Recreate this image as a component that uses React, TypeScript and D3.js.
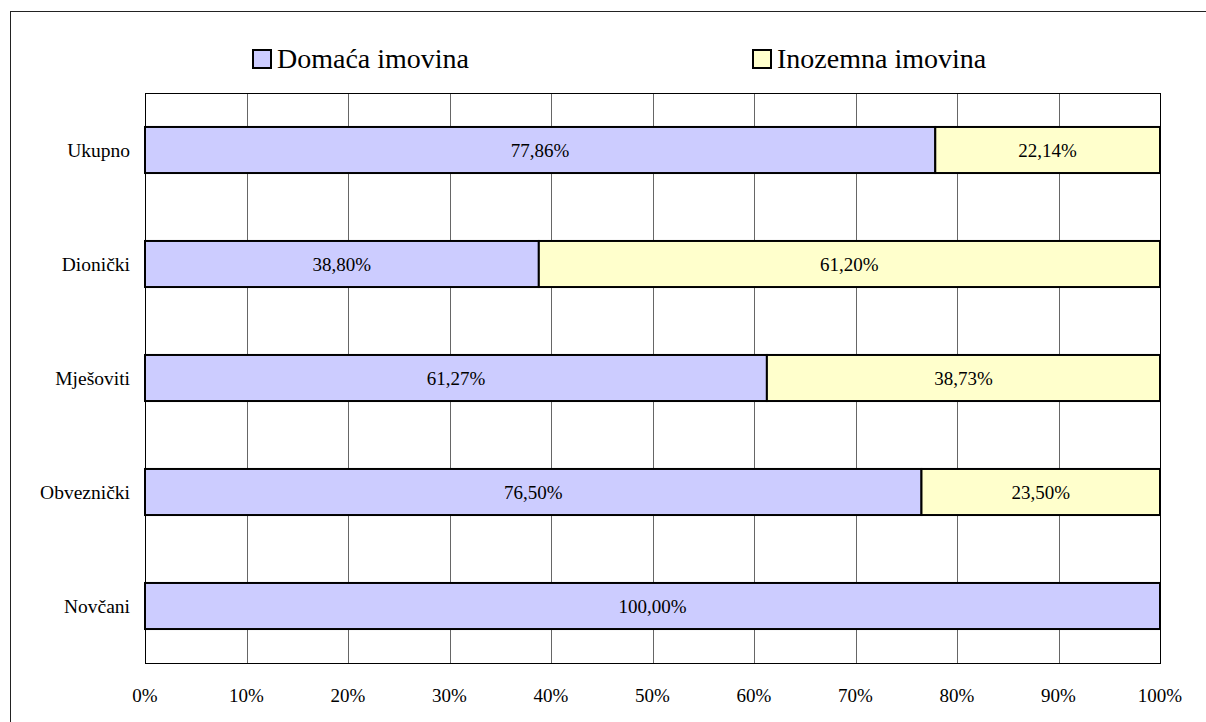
import React, { useRef, useEffect } from 'react';
import * as d3 from 'd3';

const categories = ['Ukupno', 'Dionički', 'Mješoviti', 'Obveznički', 'Novčani'];
const domestic = [77.86, 38.8, 61.27, 76.5, 100];
const foreign = [22.14, 61.2, 38.73, 23.5, 0];
const xTicks = [0, 10, 20, 30, 40, 50, 60, 70, 80, 90, 100];
const seriesNames = ['Domaća imovina', 'Inozemna imovina'];
const seriesColors = ['#CCCCFF', '#FFFFCC'];

const fmt = (v: number) => v.toFixed(2).replace('.', ',') + '%';

const App = () => {
    const chartRef = useRef<SVGSVGElement>(null);

    useEffect(() => {
        const root = d3.select(chartRef.current);
        root.selectAll('*').remove();

        const left = 145, top = 93, right = 1160, bottom = 663;
        const font = '"Liberation Serif", "Times New Roman", serif';

        // outer frame (runs off the right and bottom edges)
        root.append('rect')
            .attr('x', 10.5).attr('y', 11.5)
            .attr('width', 1300).attr('height', 800)
            .attr('fill', 'white').attr('stroke', '#222').attr('stroke-width', 1);

        const xScale = d3.scaleLinear().domain([0, 100]).range([left, right]);
        const yScale = d3.scaleBand().domain(categories).range([top, bottom]).paddingInner(0.596).paddingOuter(0.298);

        // gridlines
        root.append('g')
            .selectAll('line')
            .data(xTicks.slice(1, -1))
            .join('line')
            .attr('x1', (d) => Math.round(xScale(d)) + 0.5)
            .attr('x2', (d) => Math.round(xScale(d)) + 0.5)
            .attr('y1', top).attr('y2', bottom)
            .attr('stroke', '#666').attr('stroke-width', 1);

        root.append('rect')
            .attr('x', left + 0.5).attr('y', top + 0.5)
            .attr('width', right - left).attr('height', bottom - top)
            .attr('fill', 'none').attr('stroke', '#000').attr('stroke-width', 1);

        // stacked bars
        const stackData = categories.map((c, i) => ({ cat: c, d: domestic[i], f: foreign[i] }));
        const series = d3.stack<any>().keys(['d', 'f'])(stackData);

        series.forEach((s, si) => {
            const g = root.append('g');
            s.forEach((seg) => {
                const v = seg[1] - seg[0];
                if (v <= 0) return;
                const cat = seg.data.cat;
                const x0 = xScale(seg[0]);
                const x1 = xScale(seg[1]);
                const y = yScale(cat)!;
                const h = yScale.bandwidth();
                g.append('rect')
                    .attr('x', x0).attr('y', y)
                    .attr('width', x1 - x0).attr('height', h)
                    .attr('fill', seriesColors[si])
                    .attr('stroke', '#000').attr('stroke-width', 2);
                g.append('text')
                    .attr('x', (x0 + x1) / 2).attr('y', y + h / 2 + 7)
                    .attr('text-anchor', 'middle')
                    .style('font-family', font).style('font-size', '19px').attr('fill', '#000')
                    .text(fmt(v));
            });
        });

        // category labels
        root.append('g')
            .selectAll('text')
            .data(categories)
            .join('text')
            .attr('x', 130)
            .attr('y', (d) => yScale(d)! + yScale.bandwidth() / 2 + 7)
            .attr('text-anchor', 'end')
            .style('font-family', font).style('font-size', '19.5px')
            .text((d) => d);

        // x tick labels
        root.append('g')
            .selectAll('text')
            .data(xTicks)
            .join('text')
            .attr('x', (d) => xScale(d))
            .attr('y', 702)
            .attr('text-anchor', 'middle')
            .style('font-family', font).style('font-size', '19px')
            .text((d) => d + '%');

        // legend
        const legendX = [252, 752];
        seriesNames.forEach((name, i) => {
            root.append('rect')
                .attr('x', legendX[i] + 1).attr('y', 50)
                .attr('width', 18).attr('height', 18)
                .attr('fill', seriesColors[i]).attr('stroke', '#000').attr('stroke-width', 2);
            root.append('text')
                .attr('x', legendX[i] + 25).attr('y', 68)
                .style('font-family', font).style('font-size', '28px')
                .text(name);
        });
    }, []);

    return <svg ref={chartRef} width={1206} height={722} style={{ position: 'absolute', left: 0, top: 0 }}></svg>;
};

export default App;
